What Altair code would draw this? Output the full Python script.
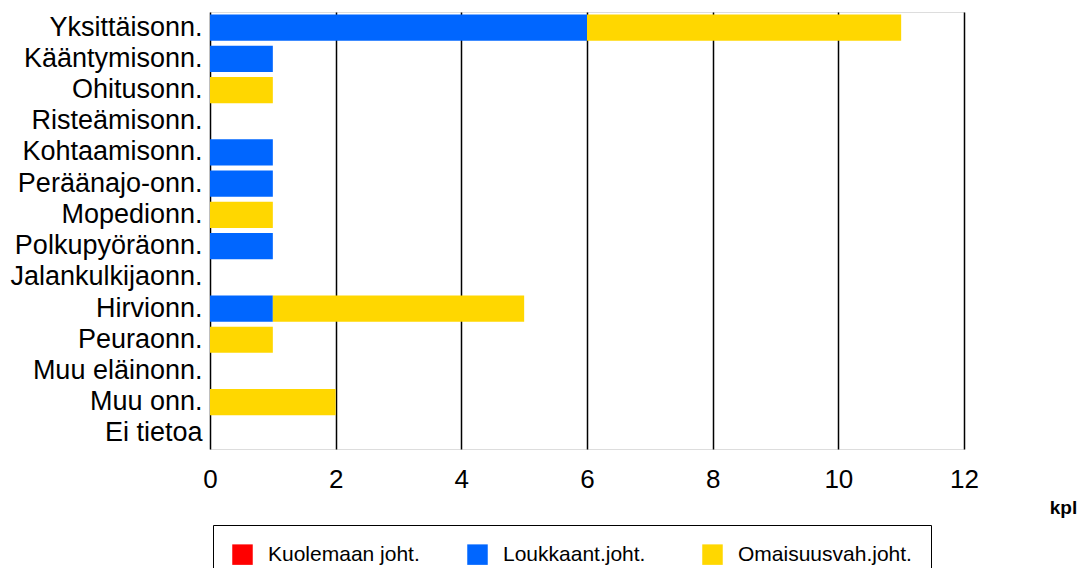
import altair as alt
import pandas as pd

categories = [
    "Yksittäisonn.", "Kääntymisonn.", "Ohitusonn.", "Risteämisonn.",
    "Kohtaamisonn.", "Peräänajo-onn.", "Mopedionn.", "Polkupyöräonn.",
    "Jalankulkijaonn.", "Hirvionn.", "Peuraonn.", "Muu eläinonn.",
    "Muu onn.", "Ei tietoa",
]
kuolemaan = [0, 0, 0, 0, 0, 0, 0, 0, 0, 0, 0, 0, 0, 0]
loukkaant = [6, 1, 0, 0, 1, 1, 0, 1, 0, 1, 0, 0, 0, 0]
omaisuus = [5, 0, 1, 0, 0, 0, 1, 0, 0, 4, 1, 0, 2, 0]
series = ["Kuolemaan joht.", "Loukkaant.joht.", "Omaisuusvah.joht."]
colors = ["#FF0000", "#0066FF", "#FFD700"]
x_ticks = [0, 2, 4, 6, 8, 10, 12]

rows = []
for s_i, (name, vals) in enumerate(zip(series, [kuolemaan, loukkaant, omaisuus])):
    for cat, v in zip(categories, vals):
        rows.append({"kategoria": cat, "sarja": name, "arvo": v, "jarjestys": s_i})
df = pd.DataFrame(rows)

FONT = "Liberation Sans"

chart = alt.Chart(df).transform_filter(
    alt.datum.arvo > 0
).mark_bar().encode(
    y=alt.Y(
        "kategoria:N",
        sort=categories,
        scale=alt.Scale(domain=categories, paddingInner=0.16, paddingOuter=0.08),
        axis=alt.Axis(
            title=None, labelFontSize=27, labelColor="black", labelFont=FONT,
            ticks=False, domain=False, labelPadding=8, grid=False, labelLimit=400,
        ),
    ),
    x=alt.X(
        "arvo:Q",
        stack="zero",
        scale=alt.Scale(domain=[0, 12], nice=False),
        axis=alt.Axis(
            values=x_ticks, grid=True, gridColor="black", gridWidth=1.5, gridOpacity=1,
            ticks=False, domain=False, labelFontSize=26, labelColor="black",
            labelFont=FONT, labelPadding=17, labelFlush=False, title="kpl",
            titleFontSize=19, titleFont=FONT, titleFontWeight="bold",
            titleColor="black", titleX=853, titleY=58, titleAlign="center",
            titleBaseline="middle",
        ),
    ),
    color=alt.Color(
        "sarja:N",
        scale=alt.Scale(domain=series, range=colors),
        legend=alt.Legend(
            title=None, orient="none", legendX=3, legendY=513,
            direction="horizontal", columns=3, gridAlign="all",
            symbolType="square", symbolSize=420, symbolStrokeWidth=0,
            labelFontSize=21, labelFont=FONT, labelColor="black",
            labelOffset=15, columnPadding=25, padding=19,
            strokeColor="black", fillColor="white", labelLimit=400,
        ),
    ),
    order=alt.Order("jarjestys:Q"),
).properties(
    width=754,
    height=437,
    padding={"left": 202, "top": 4, "right": 113, "bottom": 119},
    autosize="none",
).configure_view(
    stroke="black", strokeWidth=2
).configure(background="white")

chart.save("out.html", embed_options={"renderer": "svg", "actions": False})
